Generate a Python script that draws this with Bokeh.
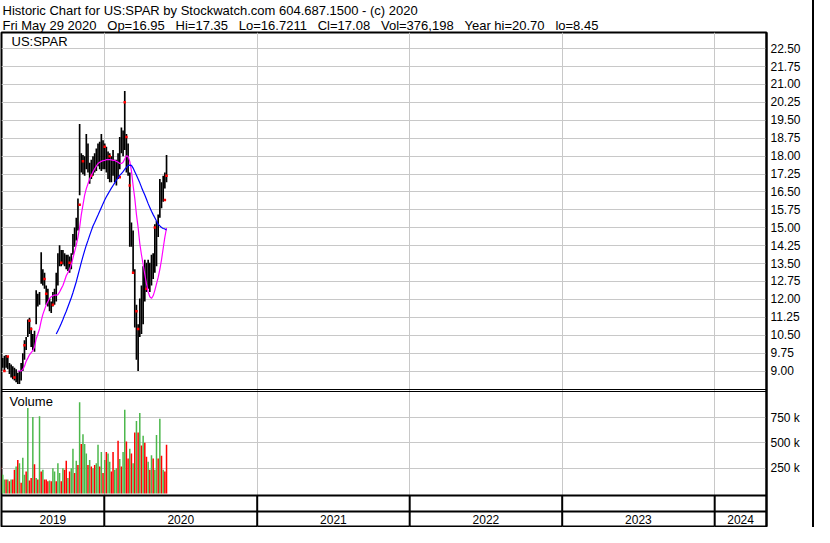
import numpy as np
import pandas as pd
from bokeh.plotting import figure
from bokeh.models import Range1d, FixedTicker, Grid, Label, PrintfTickFormatter, ColumnDataSource
from bokeh.core.properties import value
from bokeh.embed import file_html
from bokeh.resources import INLINE

# ---------------- texts ----------------
GAP = " \u00a0\u00a0"   # three-space gap that survives SVG whitespace collapsing
title_line1 = "Historic Chart for US:SPAR by Stockwatch.com 604.687.1500 - (c) 2020"
title_fields = ["Fri May 29 2020", "Op=16.95", "Hi=17.35", "Lo=16.7211", "Cl=17.08",
                "Vol=376,198", "Year hi=20.70", "lo=8.45"]
title_line2 = GAP.join(title_fields)
symbol_text = "US:SPAR"
volume_text = "Volume"

# ---------------- data (one entry every 4 days) ----------------
first_date = "2019-04-29"
step_days = 4

high = [9.61, 9.54, 9.64, 9.67, 9.61, 9.34, 9.27, 9.20, 9.14, 9.07,
        8.93, 9.00, 9.34, 9.74, 10.29, 10.42, 11.16, 11.23, 10.82, 10.55,
        10.69, 12.38, 12.24, 12.31, 13.97, 13.26, 13.12, 12.58, 12.45, 12.04,
        11.91, 12.31, 12.45, 13.12, 13.93, 14.27, 14.07, 14.07, 13.93, 13.87,
        13.87, 13.80, 13.93, 14.74, 15.01, 15.42, 16.23, 19.34, 18.12, 18.05,
        17.99, 18.93, 18.53, 17.72, 17.85, 17.99, 18.12, 18.32, 18.53, 18.60,
        18.93, 18.66, 18.53, 18.39, 18.19, 18.12, 17.99, 18.26, 17.85, 17.85,
        18.12, 18.80, 19.20, 19.07, 20.73, 18.93, 18.53, 17.31, 15.22, 14.88,
        13.26, 11.77, 10.96, 12.04, 12.58, 13.39, 13.66, 13.53, 13.66, 13.53,
        13.87, 13.93, 15.15, 15.28, 15.55, 17.04, 16.91, 17.18, 17.31, 18.05]

low = [9.07, 9.14, 9.00, 9.14, 9.07, 8.87, 8.73, 8.66, 8.60, 8.53,
       8.46, 8.46, 8.60, 9.00, 9.47, 9.88, 10.42, 10.55, 10.01, 9.88,
       9.81, 10.96, 11.70, 11.77, 12.65, 12.58, 12.45, 11.77, 11.70, 11.50,
       11.43, 11.70, 11.77, 11.91, 12.58, 13.39, 13.39, 13.46, 13.39, 13.26,
       13.19, 13.12, 13.26, 13.87, 14.20, 14.47, 14.88, 16.36, 17.31, 17.24,
       17.18, 17.45, 17.31, 16.84, 17.04, 17.18, 17.31, 17.38, 17.58, 17.45,
       17.38, 17.45, 17.45, 17.31, 17.04, 16.91, 16.91, 17.18, 16.91, 16.77,
       17.04, 17.45, 18.12, 17.99, 18.26, 17.31, 17.18, 14.20, 14.20, 13.12,
       10.82, 9.47, 9.00, 10.42, 10.55, 10.96, 11.91, 12.31, 12.45, 12.31,
       12.58, 12.85, 13.12, 13.39, 14.61, 15.42, 15.82, 16.09, 16.64, 16.91]

ma_fast = [None] * 10 + [
    9.00, 9.00, 9.00, 9.07, 9.20, 9.41, 9.54, 9.68, 9.77, 9.85,
    10.01, 10.35, 10.55, 10.76, 11.10, 11.37, 11.57, 11.77, 11.91, 12.04,
    12.11, 12.15, 12.18, 12.18, 12.20, 12.31, 12.45, 12.58, 12.78, 12.99,
    13.12, 13.26, 13.46, 13.73, 14.00, 14.27, 14.61, 15.01, 15.55, 15.96,
    16.37, 16.64, 16.84, 17.04, 17.20, 17.34, 17.47, 17.58, 17.69, 17.74,
    17.78, 17.81, 17.82, 17.85, 17.85, 17.85, 17.84, 17.82, 17.82, 17.78,
    17.74, 17.69, 17.69, 17.74, 17.88, 18.01, 17.99, 17.78, 17.38, 16.77,
    16.23, 15.55, 15.01, 14.34, 13.87, 13.46, 13.05, 12.65, 12.31, 12.11,
    12.04, 12.15, 12.38, 12.65, 12.92, 13.26, 13.66, 14.14, 14.61, 14.99]

ma_slow = [None] * 33 + [
    10.55, 10.69, 10.83, 10.99, 11.16, 11.34, 11.50, 11.69, 11.88, 12.07,
    12.28, 12.51, 12.74, 13.01, 13.28, 13.55, 13.80, 14.04, 14.27, 14.47,
    14.68, 14.88, 15.07, 15.22, 15.38, 15.53, 15.69, 15.85, 16.01, 16.16,
    16.30, 16.42, 16.54, 16.66, 16.77, 16.88, 16.99, 17.10, 17.19, 17.27,
    17.35, 17.45, 17.53, 17.61, 17.62, 17.61, 17.50, 17.35, 17.20, 17.04,
    16.88, 16.70, 16.53, 16.37, 16.19, 16.01, 15.85, 15.69, 15.55, 15.42,
    15.28, 15.15, 15.08, 15.01, 14.97, 14.95, 14.91]

volume_k = [266, 186, 138, 138, 138, 122, 138, 138, 234, 266,
            330, 298, 106, 353, 186, 218, 843, 128, 154, 756,
            288, 154, 138, 763, 218, 234, 138, 138, 122, 128,
            122, 250, 218, 122, 298, 202, 122, 250, 234, 324,
            154, 218, 250, 442, 202, 324, 282, 900, 490, 586,
            490, 394, 282, 330, 266, 250, 282, 298, 481, 266,
            410, 202, 330, 410, 394, 314, 218, 410, 234, 250,
            522, 340, 266, 410, 827, 513, 346, 442, 394, 298,
            603, 715, 603, 795, 474, 570, 500, 362, 314, 234,
            378, 346, 234, 577, 346, 737, 372, 234, 218, 481]

up_day = [0, 1, 1, 0, 1, 0, 1, 0, 0, 1,
          0, 1, 0, 1, 1, 0, 1, 0, 0, 1,
          0, 1, 0, 1, 0, 1, 0, 0, 0, 1,
          0, 1, 1, 0, 1, 1, 0, 1, 0, 0,
          1, 0, 1, 1, 0, 1, 0, 1, 0, 1,
          1, 1, 0, 1, 0, 1, 0, 1, 1, 0,
          1, 0, 1, 0, 1, 1, 0, 0, 1, 1,
          0, 1, 0, 1, 1, 0, 0, 1, 0, 1,
          0, 1, 0, 1, 0, 1, 0, 0, 1, 0,
          1, 0, 1, 1, 0, 1, 0, 1, 0, 0]

marker_index = [2, 4, 8, 14, 17, 18, 26, 27, 31, 36, 41, 47, 49, 54, 62, 65, 71, 74, 75, 77, 79, 81, 82, 87, 92, 98, 99]
marker_price = [9.00, 9.61, 8.73, 10.08, 11.10, 10.76, 12.85, 12.24, 11.77, 13.53, 13.53, 15.96, 17.78, 17.18,
                18.39, 17.99, 17.11, 20.26, 18.80, 16.77, 13.12, 11.50, 10.76, 12.45, 15.01, 16.16, 17.18]

price_ticks = [9.00, 9.75, 10.50, 11.25, 12.00, 12.75, 13.50, 14.25, 15.00, 15.75,
               16.50, 17.25, 18.00, 18.75, 19.50, 20.25, 21.00, 21.75, 22.50]
vol_ticks = [250000, 500000, 750000]
vol_tick_labels = ["250 k", "500 k", "750 k"]
years = ["2019", "2020", "2021", "2022", "2023", "2024"]
year_starts = ["2019-01-01", "2020-01-01", "2021-01-01", "2022-01-01", "2023-01-01", "2024-01-01", "2025-01-01"]
view_start = "2019-04-30"
view_end = "2024-05-04"

# ---------------- layout (pixels) ----------------
W, H = 814, 527
TOP, BOTTOM, LEFT, RIGHT = 31, 1, 1, 48
FRAME_H = H - TOP - BOTTOM          # 495
TICK_HI_PX, TICK_LO_PX = 16.2, 339.2  # pixel rows (from frame top) of 22.50 and 9.00
SEP_LINES = [357.5, 359.5]           # double line between price and volume panes
BAND_LINES = [463.5, 479.5]          # lines of the date band
BAND_TOP = 463.5
YEAR_ROW = 487.5
VOL_ZERO_PX = 462.0
VOL_PX_PER_250K = 25.4

GRID = "#C8C8C8"
GREEN = "#4CB84C"
RED = "#FF0000"
FONT = "Liberation Sans"

ppp = (price_ticks[-1] - price_ticks[0]) / (TICK_LO_PX - TICK_HI_PX)
price_top = price_ticks[-1] + TICK_HI_PX * ppp
price_bottom = price_top - FRAME_H * ppp
vpp = 250000 / VOL_PX_PER_250K
vol_top = VOL_ZERO_PX * vpp
vol_bottom = -(FRAME_H - VOL_ZERO_PX) * vpp

def vol_on_price_scale(v):
    # the right axis serves both panes: place volume ticks at
    # the height where the volume scale puts them
    return price_top - (VOL_ZERO_PX - v / vpp) * ppp

dates = pd.date_range(first_date, periods=len(high), freq=f"{step_days}D")
day_ms = 86400000
bar_w = step_days * day_ms

def nanlist(v):
    return np.array([np.nan if x is None else x for x in v], dtype=float)

src = ColumnDataSource(dict(
    date=dates, high=high, low=low,
    ma_fast=nanlist(ma_fast), ma_slow=nanlist(ma_slow),
    vol=[v * 1000 for v in volume_k],
    vcolor=[GREEN if u else RED for u in up_day],
))
msrc = ColumnDataSource(dict(date=[dates[i] for i in marker_index], price=marker_price))

t0 = pd.Timestamp(view_start)
t1 = pd.Timestamp(view_end)

p = figure(width=W, height=H, x_axis_type="datetime", x_axis_location=None,
           y_axis_location="right",
           x_range=Range1d(t0, t1), y_range=Range1d(price_bottom, price_top),
           toolbar_location=None, output_backend="svg",
           min_border_top=TOP, min_border_bottom=BOTTOM,
           min_border_left=LEFT, min_border_right=RIGHT)
p.extra_y_ranges = {"vol": Range1d(vol_bottom, vol_top), "lay": Range1d(FRAME_H, 0)}

p.background_fill_color = "white"
p.border_fill_color = "white"
p.border_fill_alpha = 0.0
p.outline_line_color = "black"
p.outline_line_width = 2
p.styles = {"box-shadow": "inset -2px 0 0 #000"}

# header: two rows in one title
p.title.text = title_line1 + "\n" + title_line2
p.title.text_font = FONT
p.title.text_font_size = "13px"
p.title.text_font_style = "normal"
p.title.text_color = "black"
p.title.text_line_height = 1.0
p.title.align = "left"
p.title.standoff = 0
p.title.offset = 1

# grids
p.xgrid.grid_line_color = None
p.ygrid.ticker = FixedTicker(ticks=price_ticks)
p.ygrid.grid_line_color = GRID
boundary_ms = [pd.Timestamp(s).value // 10**6 for s in year_starts[1:-1]]
p.add_layout(Grid(dimension=0, ticker=FixedTicker(ticks=boundary_ms), grid_line_color=GRID))
p.add_layout(Grid(dimension=1, ticker=FixedTicker(ticks=vol_ticks), y_range_name="vol",
                  grid_line_color=GRID))

# right axis: price ticks plus the volume ticks of the lower pane
vol_pos = [vol_on_price_scale(v) for v in vol_ticks]
ax = p.yaxis[0]
ax.ticker = FixedTicker(ticks=price_ticks + vol_pos)
ax.formatter = PrintfTickFormatter(format="%.2f")
ax.major_label_overrides = {pos: lab for pos, lab in zip(vol_pos, vol_tick_labels)}
ax.major_tick_out = 0
ax.major_tick_in = 0
ax.minor_tick_out = 0
ax.minor_tick_in = 0
ax.axis_line_color = "black"
ax.axis_line_width = 2
ax.major_label_standoff = 4
ax.major_label_text_font = FONT
ax.major_label_text_font_size = "12px"
ax.major_label_text_color = "black"

# volume bars
p.vbar(x="date", top="vol", bottom=0, width=bar_w * 0.9, source=src, y_range_name="vol",
       fill_color="vcolor", line_color=None)

# price bars
p.vbar(x="date", top="high", bottom="low", width=bar_w, source=src,
       fill_color="black", line_color=None)
p.scatter(x="date", y="price", source=msrc, marker="square", size=2.5,
          fill_color=RED, line_color=None)

# moving averages
p.line(x="date", y="ma_fast", source=src, line_color="#FF00FF", line_width=1.2)
p.line(x="date", y="ma_slow", source=src, line_color="#0000FF", line_width=1.2)

# pane separators and date band
p.hspan(y=SEP_LINES, y_range_name="lay", line_color="black", line_width=1)
p.hspan(y=BAND_LINES, y_range_name="lay", line_color="black", line_width=2)
b_dates = [pd.Timestamp(s) for s in year_starts[1:-1]]
p.segment(x0=b_dates, y0=[BAND_TOP] * len(b_dates), x1=b_dates, y1=[FRAME_H] * len(b_dates),
          y_range_name="lay", line_color="black", line_width=2)

mids = []
for a, b in zip(year_starts[:-1], year_starts[1:]):
    s = max(pd.Timestamp(a), t0)
    e = min(pd.Timestamp(b), t1)
    mids.append(s + (e - s) / 2)
p.text(x=mids, y=[YEAR_ROW] * len(mids), text=years, y_range_name="lay",
       text_align="center", text_baseline="middle", text_color="black",
       text_font=value(FONT), text_font_size="12px")

# in-pane labels
p.add_layout(Label(x=t0, y=8.7, y_range_name="lay", text=symbol_text, x_offset=10,
                   text_baseline="middle", text_font=FONT, text_font_size="13px", text_color="black"))
p.add_layout(Label(x=t0, y=369.6, y_range_name="lay", text=volume_text, x_offset=8,
                   text_baseline="middle", text_font=FONT, text_font_size="13px", text_color="black"))

open("out.html", "w").write(file_html(p, INLINE))
